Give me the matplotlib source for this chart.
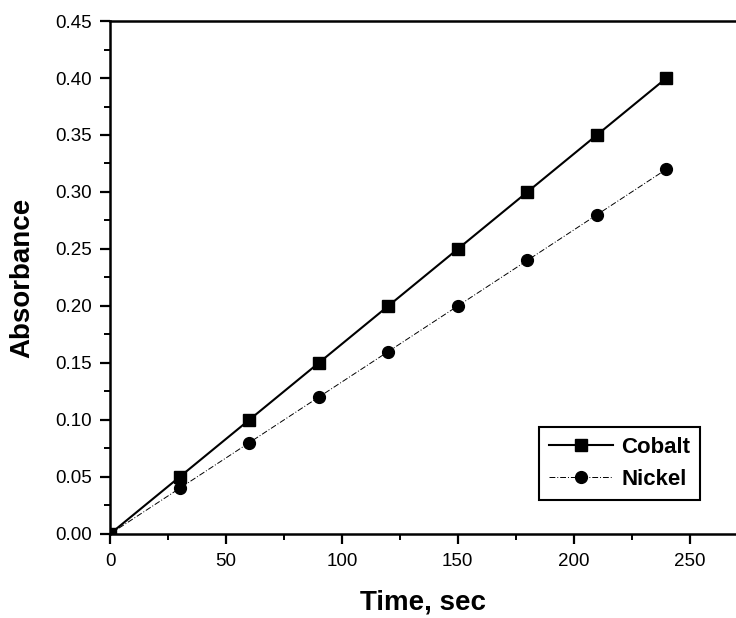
import matplotlib.pyplot as plt
from matplotlib.ticker import MultipleLocator

plt.rcParams['font.family'] = ['Liberation Sans', 'DejaVu Sans']

# time in seconds
time_s = [0, 30, 60, 90, 120, 150, 180, 210, 240]
cobalt = [0.0, 0.05, 0.10, 0.15, 0.20, 0.25, 0.30, 0.35, 0.40]
nickel = [0.0, 0.04, 0.08, 0.12, 0.16, 0.20, 0.24, 0.28, 0.32]

fig = plt.figure(figsize=(7.36, 6.18), dpi=100)
ax = fig.add_axes([0.1495, 0.136, 0.8505, 0.830])

ax.plot(time_s, cobalt, color='black', lw=1.5, marker='s', ms=8, label='Cobalt')
ax.plot(time_s, nickel, color='black', lw=0.7, ls=(0, (6, 2, 1, 2)), marker='o', ms=8.5,
        label='Nickel')

ax.set_xlim(0, 270)
ax.set_ylim(0, 0.45)
ax.xaxis.set_major_locator(MultipleLocator(50))
ax.xaxis.set_minor_locator(MultipleLocator(25))
ax.yaxis.set_major_locator(MultipleLocator(0.05))
ax.yaxis.set_minor_locator(MultipleLocator(0.025))
ax.yaxis.set_major_formatter(plt.FormatStrFormatter('%.2f'))

ax.spines['right'].set_visible(False)
for s in ['left', 'bottom', 'top']:
    ax.spines[s].set_linewidth(1.8)
ax.tick_params(which='major', direction='out', length=7, width=1.6, labelsize=13.5)
ax.tick_params(axis='x', which='major', pad=7)
ax.tick_params(axis='y', which='major', pad=6)
ax.tick_params(which='minor', direction='out', length=4.5, width=1.4)

ax.set_xlabel('Time, sec', fontsize=20, fontweight='bold', labelpad=14)
ax.set_ylabel('Absorbance', fontsize=20, fontweight='bold', labelpad=14)

leg = ax.legend(loc='lower right', bbox_to_anchor=(0.9425, 0.066),
                prop={'size': 16, 'weight': 'bold'}, borderaxespad=0,
                fancybox=False, edgecolor='black', framealpha=1, handlelength=2.9,
                handletextpad=0.35, borderpad=0.45, labelspacing=0.5)
leg.get_frame().set_linewidth(1.5)

fig.savefig('out.png', dpi=100)
